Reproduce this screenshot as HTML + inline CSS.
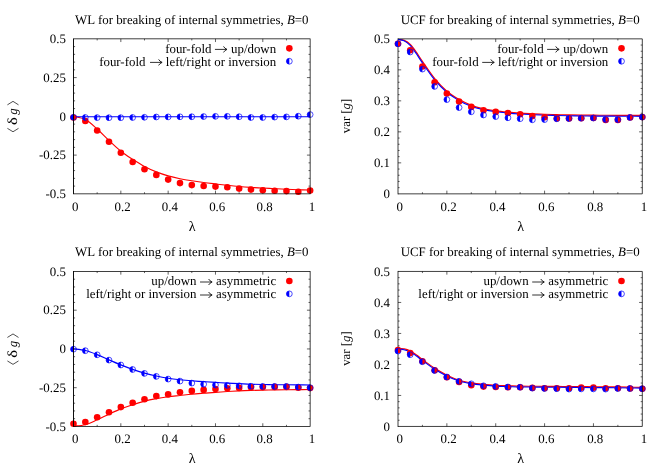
<!DOCTYPE html>
<html><head><meta charset="utf-8"><title>Symmetry breaking plots</title>
<style>
html,body{margin:0;padding:0;background:#fff;}
body{width:664px;height:465px;overflow:hidden;font-family:"Liberation Serif",serif;}
svg{display:block;}
svg g.t{filter:grayscale(1);}
svg text{text-rendering:geometricPrecision;font-family:"Liberation Serif",serif;font-size:12.9px;fill:#000;}
</style></head><body>
<svg width="664" height="465" viewBox="0 0 664 465">
<rect width="664" height="465" fill="#fff"/>
<path d="M97.16 193.85 v-1.60 M97.16 38.85 v1.60 M120.83 193.85 v-3.20 M120.83 38.85 v3.20 M144.49 193.85 v-1.60 M144.49 38.85 v1.60 M168.15 193.85 v-3.20 M168.15 38.85 v3.20 M191.81 193.85 v-1.60 M191.81 38.85 v1.60 M215.48 193.85 v-3.20 M215.48 38.85 v3.20 M239.14 193.85 v-1.60 M239.14 38.85 v1.60 M262.80 193.85 v-3.20 M262.80 38.85 v3.20 M286.47 193.85 v-1.60 M286.47 38.85 v1.60 M73.50 46.60 h1.60 M310.13 46.60 h-1.60 M73.50 54.35 h1.60 M310.13 54.35 h-1.60 M73.50 62.10 h1.60 M310.13 62.10 h-1.60 M73.50 69.85 h1.60 M310.13 69.85 h-1.60 M73.50 77.60 h3.20 M310.13 77.60 h-3.20 M73.50 85.35 h1.60 M310.13 85.35 h-1.60 M73.50 93.10 h1.60 M310.13 93.10 h-1.60 M73.50 100.85 h1.60 M310.13 100.85 h-1.60 M73.50 108.60 h1.60 M310.13 108.60 h-1.60 M73.50 116.35 h3.20 M310.13 116.35 h-3.20 M73.50 124.10 h1.60 M310.13 124.10 h-1.60 M73.50 131.85 h1.60 M310.13 131.85 h-1.60 M73.50 139.60 h1.60 M310.13 139.60 h-1.60 M73.50 147.35 h1.60 M310.13 147.35 h-1.60 M73.50 155.10 h3.20 M310.13 155.10 h-3.20 M73.50 162.85 h1.60 M310.13 162.85 h-1.60 M73.50 170.60 h1.60 M310.13 170.60 h-1.60 M73.50 178.35 h1.60 M310.13 178.35 h-1.60 M73.50 186.10 h1.60 M310.13 186.10 h-1.60" fill="none" stroke="#000" stroke-width="0.62"/>
<path d="M73.50 116.20 C75.47 116.77 81.39 117.47 85.33 119.60 C89.28 121.73 93.22 125.52 97.16 129.00 C101.11 132.48 105.05 136.80 108.99 140.50 C112.94 144.20 116.88 148.07 120.83 151.20 C124.77 154.33 128.71 156.75 132.66 159.30 C136.60 161.85 140.55 164.40 144.49 166.50 C148.43 168.60 152.38 170.33 156.32 171.90 C160.26 173.47 164.21 174.77 168.15 175.90 C172.10 177.03 176.04 177.88 179.98 178.70 C183.93 179.52 187.87 180.17 191.81 180.80 C195.76 181.43 199.70 181.97 203.65 182.50 C207.59 183.03 211.53 183.48 215.48 183.95 C219.42 184.42 223.37 184.88 227.31 185.30 C231.25 185.73 235.20 186.15 239.14 186.50 C243.08 186.85 247.03 187.14 250.97 187.40 C254.92 187.66 258.86 187.83 262.80 188.05 C266.75 188.27 270.69 188.51 274.64 188.70 C278.58 188.89 282.52 189.03 286.47 189.20 C290.41 189.37 294.35 189.56 298.30 189.70 C302.24 189.84 308.16 189.99 310.13 190.05" fill="none" stroke="#ff0000" stroke-width="1.15" stroke-linejoin="round"/>
<path d="M73.50 116.70 C75.47 116.70 81.39 116.70 85.33 116.70 C89.28 116.70 93.22 116.70 97.16 116.70 C101.11 116.70 105.05 116.70 108.99 116.70 C112.94 116.70 116.88 116.70 120.83 116.70 C124.77 116.70 128.71 116.70 132.66 116.70 C136.60 116.70 140.55 116.70 144.49 116.70 C148.43 116.70 152.38 116.70 156.32 116.70 C160.26 116.70 164.21 116.70 168.15 116.70 C172.10 116.70 176.04 116.70 179.98 116.70 C183.93 116.70 187.87 116.70 191.81 116.70 C195.76 116.70 199.70 116.70 203.65 116.70 C207.59 116.70 211.53 116.70 215.48 116.70 C219.42 116.70 223.37 116.70 227.31 116.70 C231.25 116.70 235.20 116.70 239.14 116.70 C243.08 116.70 247.03 116.70 250.97 116.70 C254.92 116.70 258.86 116.70 262.80 116.70 C266.75 116.70 270.69 116.70 274.64 116.70 C278.58 116.70 282.52 116.70 286.47 116.70 C290.41 116.70 294.35 116.70 298.30 116.70 C302.24 116.70 308.16 116.70 310.13 116.70" fill="none" stroke="#0000ff" stroke-width="1.15" stroke-linejoin="round"/>
<circle cx="73.50" cy="117.50" r="3.30" fill="#ff0000"/><circle cx="85.33" cy="121.05" r="3.30" fill="#ff0000"/><circle cx="97.16" cy="130.45" r="3.30" fill="#ff0000"/><circle cx="108.99" cy="141.80" r="3.30" fill="#ff0000"/><circle cx="120.83" cy="152.80" r="3.30" fill="#ff0000"/><circle cx="132.66" cy="162.00" r="3.30" fill="#ff0000"/><circle cx="144.49" cy="169.20" r="3.30" fill="#ff0000"/><circle cx="156.32" cy="174.90" r="3.30" fill="#ff0000"/><circle cx="168.15" cy="179.60" r="3.30" fill="#ff0000"/><circle cx="179.98" cy="183.10" r="3.30" fill="#ff0000"/><circle cx="191.81" cy="185.10" r="3.30" fill="#ff0000"/><circle cx="203.65" cy="186.05" r="3.30" fill="#ff0000"/><circle cx="215.48" cy="186.60" r="3.30" fill="#ff0000"/><circle cx="227.31" cy="187.20" r="3.30" fill="#ff0000"/><circle cx="239.14" cy="188.60" r="3.30" fill="#ff0000"/><circle cx="250.97" cy="189.60" r="3.30" fill="#ff0000"/><circle cx="262.80" cy="190.20" r="3.30" fill="#ff0000"/><circle cx="274.64" cy="190.70" r="3.30" fill="#ff0000"/><circle cx="286.47" cy="191.10" r="3.30" fill="#ff0000"/><circle cx="298.30" cy="191.70" r="3.30" fill="#ff0000"/><circle cx="310.13" cy="190.60" r="3.30" fill="#ff0000"/>
<circle cx="73.50" cy="117.30" r="2.90" fill="none" stroke="#0000ff" stroke-width="0.7"/><path d="M73.50 114.40 A2.90 2.90 0 0 0 73.50 120.20 Z" fill="#0000ff"/><circle cx="85.33" cy="117.50" r="2.90" fill="none" stroke="#0000ff" stroke-width="0.7"/><path d="M85.33 114.60 A2.90 2.90 0 0 0 85.33 120.40 Z" fill="#0000ff"/><circle cx="97.16" cy="117.60" r="2.90" fill="none" stroke="#0000ff" stroke-width="0.7"/><path d="M97.16 114.70 A2.90 2.90 0 0 0 97.16 120.50 Z" fill="#0000ff"/><circle cx="108.99" cy="117.70" r="2.90" fill="none" stroke="#0000ff" stroke-width="0.7"/><path d="M108.99 114.80 A2.90 2.90 0 0 0 108.99 120.60 Z" fill="#0000ff"/><circle cx="120.83" cy="117.70" r="2.90" fill="none" stroke="#0000ff" stroke-width="0.7"/><path d="M120.83 114.80 A2.90 2.90 0 0 0 120.83 120.60 Z" fill="#0000ff"/><circle cx="132.66" cy="117.50" r="2.90" fill="none" stroke="#0000ff" stroke-width="0.7"/><path d="M132.66 114.60 A2.90 2.90 0 0 0 132.66 120.40 Z" fill="#0000ff"/><circle cx="144.49" cy="117.30" r="2.90" fill="none" stroke="#0000ff" stroke-width="0.7"/><path d="M144.49 114.40 A2.90 2.90 0 0 0 144.49 120.20 Z" fill="#0000ff"/><circle cx="156.32" cy="117.00" r="2.90" fill="none" stroke="#0000ff" stroke-width="0.7"/><path d="M156.32 114.10 A2.90 2.90 0 0 0 156.32 119.90 Z" fill="#0000ff"/><circle cx="168.15" cy="116.90" r="2.90" fill="none" stroke="#0000ff" stroke-width="0.7"/><path d="M168.15 114.00 A2.90 2.90 0 0 0 168.15 119.80 Z" fill="#0000ff"/><circle cx="179.98" cy="116.80" r="2.90" fill="none" stroke="#0000ff" stroke-width="0.7"/><path d="M179.98 113.90 A2.90 2.90 0 0 0 179.98 119.70 Z" fill="#0000ff"/><circle cx="191.81" cy="116.75" r="2.90" fill="none" stroke="#0000ff" stroke-width="0.7"/><path d="M191.81 113.85 A2.90 2.90 0 0 0 191.81 119.65 Z" fill="#0000ff"/><circle cx="203.65" cy="116.55" r="2.90" fill="none" stroke="#0000ff" stroke-width="0.7"/><path d="M203.65 113.65 A2.90 2.90 0 0 0 203.65 119.45 Z" fill="#0000ff"/><circle cx="215.48" cy="116.35" r="2.90" fill="none" stroke="#0000ff" stroke-width="0.7"/><path d="M215.48 113.45 A2.90 2.90 0 0 0 215.48 119.25 Z" fill="#0000ff"/><circle cx="227.31" cy="116.35" r="2.90" fill="none" stroke="#0000ff" stroke-width="0.7"/><path d="M227.31 113.45 A2.90 2.90 0 0 0 227.31 119.25 Z" fill="#0000ff"/><circle cx="239.14" cy="116.75" r="2.90" fill="none" stroke="#0000ff" stroke-width="0.7"/><path d="M239.14 113.85 A2.90 2.90 0 0 0 239.14 119.65 Z" fill="#0000ff"/><circle cx="250.97" cy="117.50" r="2.90" fill="none" stroke="#0000ff" stroke-width="0.7"/><path d="M250.97 114.60 A2.90 2.90 0 0 0 250.97 120.40 Z" fill="#0000ff"/><circle cx="262.80" cy="117.50" r="2.90" fill="none" stroke="#0000ff" stroke-width="0.7"/><path d="M262.80 114.60 A2.90 2.90 0 0 0 262.80 120.40 Z" fill="#0000ff"/><circle cx="274.64" cy="117.10" r="2.90" fill="none" stroke="#0000ff" stroke-width="0.7"/><path d="M274.64 114.20 A2.90 2.90 0 0 0 274.64 120.00 Z" fill="#0000ff"/><circle cx="286.47" cy="116.90" r="2.90" fill="none" stroke="#0000ff" stroke-width="0.7"/><path d="M286.47 114.00 A2.90 2.90 0 0 0 286.47 119.80 Z" fill="#0000ff"/><circle cx="298.30" cy="116.20" r="2.90" fill="none" stroke="#0000ff" stroke-width="0.7"/><path d="M298.30 113.30 A2.90 2.90 0 0 0 298.30 119.10 Z" fill="#0000ff"/><circle cx="310.13" cy="114.60" r="2.90" fill="none" stroke="#0000ff" stroke-width="0.7"/><path d="M310.13 111.70 A2.90 2.90 0 0 0 310.13 117.50 Z" fill="#0000ff"/>
<path d="M214.93 49.40 H226.53" fill="none" stroke="#000" stroke-width="0.8"/>
<path d="M223.53 46.40 Q224.63 48.50 227.03 49.40 Q224.63 50.30 223.53 52.40" fill="none" stroke="#000" stroke-width="0.85" stroke-linejoin="miter"/>
<path d="M150.03 62.40 H161.63" fill="none" stroke="#000" stroke-width="0.8"/>
<path d="M158.63 59.40 Q159.73 61.50 162.13 62.40 Q159.73 63.30 158.63 65.40" fill="none" stroke="#000" stroke-width="0.85" stroke-linejoin="miter"/>
<circle cx="289.33" cy="48.35" r="3.30" fill="#ff0000"/>
<circle cx="289.33" cy="61.25" r="2.90" fill="none" stroke="#0000ff" stroke-width="0.7"/><path d="M289.33 58.35 A2.90 2.90 0 0 0 289.33 64.15 Z" fill="#0000ff"/>
<rect x="73.50" y="38.85" width="236.63" height="155.00" fill="none" stroke="#000" stroke-width="0.75"/>
<path d="M73.50 38.85 V193.85" fill="none" stroke="#000" stroke-width="0.75"/>
<g class="t">
<text x="191.81" y="23.65" text-anchor="middle">WL for breaking of internal symmetries, <tspan style="font-style:italic">B</tspan>=0</text>
<text x="192.31" y="230.55" text-anchor="middle" style="font-size:14.2px">λ</text>
<g transform="translate(16.50 116.75) rotate(-90)">
<text transform="translate(-8.3 0.1) scale(1.2 1)" x="0" y="0" style="font-size:13.7px">δ</text>
<text x="2.0" y="0.1" style="font-size:13px;font-style:italic">g</text>
<path d="M-11.6 -9.1 L-15.0 -3.5 L-11.6 2.0" fill="none" stroke="#000" stroke-width="0.7"/>
<path d="M11.9 -9.1 L15.4 -3.5 L11.9 2.0" fill="none" stroke="#000" stroke-width="0.7"/>
</g>
<text x="276.13" y="52.60" text-anchor="end">up/down</text>
<text x="211.43" y="52.60" text-anchor="end">four-fold</text>
<text x="276.13" y="65.60" text-anchor="end">left/right or inversion</text>
<text x="145.43" y="65.60" text-anchor="end">four-fold</text>
<text x="75.25" y="210.80" text-anchor="middle">0</text>
<text x="122.58" y="210.80" text-anchor="middle">0.2</text>
<text x="169.90" y="210.80" text-anchor="middle">0.4</text>
<text x="217.23" y="210.80" text-anchor="middle">0.6</text>
<text x="264.55" y="210.80" text-anchor="middle">0.8</text>
<text x="311.88" y="210.80" text-anchor="middle">1</text>
<text x="65.90" y="43.10" text-anchor="end">0.5</text>
<text x="65.90" y="81.85" text-anchor="end">0.25</text>
<text x="65.90" y="120.60" text-anchor="end">0</text>
<text x="65.90" y="159.35" text-anchor="end">-0.25</text>
<text x="65.90" y="198.10" text-anchor="end">-0.5</text>
</g>
<path d="M398.00 38.85 V193.85" fill="none" stroke="#000" stroke-width="0.75" stroke-linecap="square"/>
<path d="M422.43 193.85 v-1.60 M422.43 38.85 v1.60 M446.86 193.85 v-3.20 M446.86 38.85 v3.20 M471.29 193.85 v-1.60 M471.29 38.85 v1.60 M495.72 193.85 v-3.20 M495.72 38.85 v3.20 M520.15 193.85 v-1.60 M520.15 38.85 v1.60 M544.58 193.85 v-3.20 M544.58 38.85 v3.20 M569.01 193.85 v-1.60 M569.01 38.85 v1.60 M593.44 193.85 v-3.20 M593.44 38.85 v3.20 M617.87 193.85 v-1.60 M617.87 38.85 v1.60 M398.00 45.05 h1.60 M642.30 45.05 h-1.60 M398.00 51.25 h1.60 M642.30 51.25 h-1.60 M398.00 57.45 h1.60 M642.30 57.45 h-1.60 M398.00 63.65 h1.60 M642.30 63.65 h-1.60 M398.00 69.85 h3.20 M642.30 69.85 h-3.20 M398.00 76.05 h1.60 M642.30 76.05 h-1.60 M398.00 82.25 h1.60 M642.30 82.25 h-1.60 M398.00 88.45 h1.60 M642.30 88.45 h-1.60 M398.00 94.65 h1.60 M642.30 94.65 h-1.60 M398.00 100.85 h3.20 M642.30 100.85 h-3.20 M398.00 107.05 h1.60 M642.30 107.05 h-1.60 M398.00 113.25 h1.60 M642.30 113.25 h-1.60 M398.00 119.45 h1.60 M642.30 119.45 h-1.60 M398.00 125.65 h1.60 M642.30 125.65 h-1.60 M398.00 131.85 h3.20 M642.30 131.85 h-3.20 M398.00 138.05 h1.60 M642.30 138.05 h-1.60 M398.00 144.25 h1.60 M642.30 144.25 h-1.60 M398.00 150.45 h1.60 M642.30 150.45 h-1.60 M398.00 156.65 h1.60 M642.30 156.65 h-1.60 M398.00 162.85 h3.20 M642.30 162.85 h-3.20 M398.00 169.05 h1.60 M642.30 169.05 h-1.60 M398.00 175.25 h1.60 M642.30 175.25 h-1.60 M398.00 181.45 h1.60 M642.30 181.45 h-1.60 M398.00 187.65 h1.60 M642.30 187.65 h-1.60" fill="none" stroke="#000" stroke-width="0.62"/>
<path d="M398.00 39.50 C399.04 39.64 402.13 39.50 404.22 40.35 C406.31 41.20 408.46 42.53 410.53 44.58 C412.61 46.63 414.65 49.76 416.69 52.64 C418.73 55.52 419.75 57.46 422.80 61.84 C425.85 66.22 430.93 73.98 434.99 78.91 C439.05 83.85 443.10 88.01 447.15 91.46 C451.20 94.91 455.25 97.29 459.30 99.61 C463.35 101.93 467.40 103.85 471.45 105.38 C475.50 106.90 479.55 107.85 483.60 108.76 C487.66 109.67 491.72 110.29 495.78 110.85 C499.84 111.42 503.91 111.78 507.98 112.15 C512.04 112.53 516.11 112.83 520.18 113.10 C524.25 113.37 528.32 113.55 532.39 113.75 C536.46 113.95 540.53 114.16 544.60 114.30 C548.67 114.44 552.74 114.50 556.81 114.60 C560.88 114.70 564.95 114.82 569.02 114.90 C573.09 114.98 577.16 115.06 581.23 115.10 C585.30 115.15 589.37 115.15 593.44 115.17 C597.51 115.20 601.59 115.23 605.66 115.25 C609.73 115.28 613.80 115.30 617.87 115.32 C621.94 115.34 626.01 115.36 630.09 115.37 C634.16 115.38 640.27 115.40 642.30 115.40" fill="none" stroke="#ff0000" stroke-width="1.15" stroke-linejoin="round"/>
<path d="M398.00 39.50 C399.00 39.73 402.01 39.90 404.00 40.85 C405.98 41.80 407.90 43.17 409.90 45.22 C411.89 47.27 413.93 50.30 415.96 53.16 C417.98 56.02 419.00 57.97 422.06 62.36 C425.12 66.74 430.21 74.52 434.30 79.49 C438.38 84.45 442.48 88.66 446.57 92.14 C450.66 95.63 454.76 98.04 458.85 100.39 C462.95 102.74 467.04 104.68 471.13 106.22 C475.22 107.76 479.32 108.72 483.41 109.64 C487.49 110.56 491.58 111.18 495.66 111.75 C499.74 112.31 503.82 112.67 507.89 113.05 C511.97 113.42 516.05 113.73 520.12 114.00 C524.20 114.27 528.27 114.45 532.34 114.65 C536.42 114.85 540.49 115.06 544.56 115.20 C548.64 115.34 552.71 115.40 556.78 115.50 C560.86 115.60 564.93 115.72 569.00 115.80 C573.07 115.88 577.15 115.95 581.22 116.00 C585.29 116.04 589.37 116.04 593.44 116.07 C597.51 116.09 601.58 116.12 605.65 116.15 C609.72 116.17 613.80 116.20 617.87 116.22 C621.94 116.24 626.01 116.26 630.08 116.27 C634.16 116.28 640.26 116.29 642.30 116.30" fill="none" stroke="#0000ff" stroke-width="1.15" stroke-linejoin="round"/>
<circle cx="398.00" cy="43.80" r="3.30" fill="#ff0000"/><circle cx="410.21" cy="50.20" r="3.30" fill="#ff0000"/><circle cx="422.43" cy="66.50" r="3.30" fill="#ff0000"/><circle cx="434.64" cy="82.30" r="3.30" fill="#ff0000"/><circle cx="446.86" cy="93.50" r="3.30" fill="#ff0000"/><circle cx="459.07" cy="101.60" r="3.30" fill="#ff0000"/><circle cx="471.29" cy="106.90" r="3.30" fill="#ff0000"/><circle cx="483.50" cy="110.30" r="3.30" fill="#ff0000"/><circle cx="495.72" cy="111.90" r="3.30" fill="#ff0000"/><circle cx="507.94" cy="113.00" r="3.30" fill="#ff0000"/><circle cx="520.15" cy="114.20" r="3.30" fill="#ff0000"/><circle cx="532.37" cy="116.10" r="3.30" fill="#ff0000"/><circle cx="544.58" cy="117.30" r="3.30" fill="#ff0000"/><circle cx="556.79" cy="118.40" r="3.30" fill="#ff0000"/><circle cx="569.01" cy="118.40" r="3.30" fill="#ff0000"/><circle cx="581.22" cy="118.20" r="3.30" fill="#ff0000"/><circle cx="593.44" cy="118.00" r="3.30" fill="#ff0000"/><circle cx="605.65" cy="119.90" r="3.30" fill="#ff0000"/><circle cx="617.87" cy="119.90" r="3.30" fill="#ff0000"/><circle cx="630.08" cy="117.45" r="3.30" fill="#ff0000"/><circle cx="642.30" cy="117.10" r="3.30" fill="#ff0000"/>
<circle cx="398.00" cy="43.80" r="2.90" fill="none" stroke="#0000ff" stroke-width="0.7"/><path d="M398.00 40.90 A2.90 2.90 0 0 0 398.00 46.70 Z" fill="#0000ff"/><circle cx="410.21" cy="52.00" r="2.90" fill="none" stroke="#0000ff" stroke-width="0.7"/><path d="M410.21 49.10 A2.90 2.90 0 0 0 410.21 54.90 Z" fill="#0000ff"/><circle cx="422.43" cy="69.10" r="2.90" fill="none" stroke="#0000ff" stroke-width="0.7"/><path d="M422.43 66.20 A2.90 2.90 0 0 0 422.43 72.00 Z" fill="#0000ff"/><circle cx="434.64" cy="86.40" r="2.90" fill="none" stroke="#0000ff" stroke-width="0.7"/><path d="M434.64 83.50 A2.90 2.90 0 0 0 434.64 89.30 Z" fill="#0000ff"/><circle cx="446.86" cy="99.60" r="2.90" fill="none" stroke="#0000ff" stroke-width="0.7"/><path d="M446.86 96.70 A2.90 2.90 0 0 0 446.86 102.50 Z" fill="#0000ff"/><circle cx="459.07" cy="107.60" r="2.90" fill="none" stroke="#0000ff" stroke-width="0.7"/><path d="M459.07 104.70 A2.90 2.90 0 0 0 459.07 110.50 Z" fill="#0000ff"/><circle cx="471.29" cy="111.80" r="2.90" fill="none" stroke="#0000ff" stroke-width="0.7"/><path d="M471.29 108.90 A2.90 2.90 0 0 0 471.29 114.70 Z" fill="#0000ff"/><circle cx="483.50" cy="115.00" r="2.90" fill="none" stroke="#0000ff" stroke-width="0.7"/><path d="M483.50 112.10 A2.90 2.90 0 0 0 483.50 117.90 Z" fill="#0000ff"/><circle cx="495.72" cy="116.60" r="2.90" fill="none" stroke="#0000ff" stroke-width="0.7"/><path d="M495.72 113.70 A2.90 2.90 0 0 0 495.72 119.50 Z" fill="#0000ff"/><circle cx="507.94" cy="117.80" r="2.90" fill="none" stroke="#0000ff" stroke-width="0.7"/><path d="M507.94 114.90 A2.90 2.90 0 0 0 507.94 120.70 Z" fill="#0000ff"/><circle cx="520.15" cy="118.70" r="2.90" fill="none" stroke="#0000ff" stroke-width="0.7"/><path d="M520.15 115.80 A2.90 2.90 0 0 0 520.15 121.60 Z" fill="#0000ff"/><circle cx="532.37" cy="119.80" r="2.90" fill="none" stroke="#0000ff" stroke-width="0.7"/><path d="M532.37 116.90 A2.90 2.90 0 0 0 532.37 122.70 Z" fill="#0000ff"/><circle cx="544.58" cy="119.60" r="2.90" fill="none" stroke="#0000ff" stroke-width="0.7"/><path d="M544.58 116.70 A2.90 2.90 0 0 0 544.58 122.50 Z" fill="#0000ff"/><circle cx="556.79" cy="118.80" r="2.90" fill="none" stroke="#0000ff" stroke-width="0.7"/><path d="M556.79 115.90 A2.90 2.90 0 0 0 556.79 121.70 Z" fill="#0000ff"/><circle cx="569.01" cy="118.50" r="2.90" fill="none" stroke="#0000ff" stroke-width="0.7"/><path d="M569.01 115.60 A2.90 2.90 0 0 0 569.01 121.40 Z" fill="#0000ff"/><circle cx="581.22" cy="118.20" r="2.90" fill="none" stroke="#0000ff" stroke-width="0.7"/><path d="M581.22 115.30 A2.90 2.90 0 0 0 581.22 121.10 Z" fill="#0000ff"/><circle cx="593.44" cy="118.00" r="2.90" fill="none" stroke="#0000ff" stroke-width="0.7"/><path d="M593.44 115.10 A2.90 2.90 0 0 0 593.44 120.90 Z" fill="#0000ff"/><circle cx="605.65" cy="119.50" r="2.90" fill="none" stroke="#0000ff" stroke-width="0.7"/><path d="M605.65 116.60 A2.90 2.90 0 0 0 605.65 122.40 Z" fill="#0000ff"/><circle cx="617.87" cy="119.60" r="2.90" fill="none" stroke="#0000ff" stroke-width="0.7"/><path d="M617.87 116.70 A2.90 2.90 0 0 0 617.87 122.50 Z" fill="#0000ff"/><circle cx="630.08" cy="117.45" r="2.90" fill="none" stroke="#0000ff" stroke-width="0.7"/><path d="M630.08 114.55 A2.90 2.90 0 0 0 630.08 120.35 Z" fill="#0000ff"/><circle cx="642.30" cy="117.10" r="2.90" fill="none" stroke="#0000ff" stroke-width="0.7"/><path d="M642.30 114.20 A2.90 2.90 0 0 0 642.30 120.00 Z" fill="#0000ff"/>
<path d="M547.10 49.40 H558.70" fill="none" stroke="#000" stroke-width="0.8"/>
<path d="M555.70 46.40 Q556.80 48.50 559.20 49.40 Q556.80 50.30 555.70 52.40" fill="none" stroke="#000" stroke-width="0.85" stroke-linejoin="miter"/>
<path d="M482.20 62.40 H493.80" fill="none" stroke="#000" stroke-width="0.8"/>
<path d="M490.80 59.40 Q491.90 61.50 494.30 62.40 Q491.90 63.30 490.80 65.40" fill="none" stroke="#000" stroke-width="0.85" stroke-linejoin="miter"/>
<circle cx="621.50" cy="48.35" r="3.30" fill="#ff0000"/>
<circle cx="621.50" cy="61.25" r="2.90" fill="none" stroke="#0000ff" stroke-width="0.7"/><path d="M621.50 58.35 A2.90 2.90 0 0 0 621.50 64.15 Z" fill="#0000ff"/>
<path d="M398.00 38.85 H642.30 V193.85 H398.00" fill="none" stroke="#000" stroke-width="0.75" stroke-linejoin="round"/>
<g class="t">
<text x="520.15" y="23.65" text-anchor="middle">UCF for breaking of internal symmetries, <tspan style="font-style:italic">B</tspan>=0</text>
<text x="520.65" y="230.55" text-anchor="middle" style="font-size:14.2px">λ</text>
<g transform="translate(349.70 115.95) rotate(-90)">
<text x="0" y="0" text-anchor="middle" style="font-size:12.8px">var [<tspan style="font-style:italic">g</tspan>]</text>
</g>
<text x="608.30" y="52.60" text-anchor="end">up/down</text>
<text x="543.60" y="52.60" text-anchor="end">four-fold</text>
<text x="608.30" y="65.60" text-anchor="end">left/right or inversion</text>
<text x="478.60" y="65.60" text-anchor="end">four-fold</text>
<text x="399.75" y="210.80" text-anchor="middle">0</text>
<text x="448.61" y="210.80" text-anchor="middle">0.2</text>
<text x="497.47" y="210.80" text-anchor="middle">0.4</text>
<text x="546.33" y="210.80" text-anchor="middle">0.6</text>
<text x="595.19" y="210.80" text-anchor="middle">0.8</text>
<text x="644.05" y="210.80" text-anchor="middle">1</text>
<text x="390.00" y="43.10" text-anchor="end">0.5</text>
<text x="390.00" y="74.10" text-anchor="end">0.4</text>
<text x="390.00" y="105.10" text-anchor="end">0.3</text>
<text x="390.00" y="136.10" text-anchor="end">0.2</text>
<text x="390.00" y="167.10" text-anchor="end">0.1</text>
<text x="390.00" y="198.10" text-anchor="end">0</text>
</g>
<path d="M97.16 426.45 v-1.60 M97.16 271.45 v1.60 M120.83 426.45 v-3.20 M120.83 271.45 v3.20 M144.49 426.45 v-1.60 M144.49 271.45 v1.60 M168.15 426.45 v-3.20 M168.15 271.45 v3.20 M191.81 426.45 v-1.60 M191.81 271.45 v1.60 M215.48 426.45 v-3.20 M215.48 271.45 v3.20 M239.14 426.45 v-1.60 M239.14 271.45 v1.60 M262.80 426.45 v-3.20 M262.80 271.45 v3.20 M286.47 426.45 v-1.60 M286.47 271.45 v1.60 M73.50 279.20 h1.60 M310.13 279.20 h-1.60 M73.50 286.95 h1.60 M310.13 286.95 h-1.60 M73.50 294.70 h1.60 M310.13 294.70 h-1.60 M73.50 302.45 h1.60 M310.13 302.45 h-1.60 M73.50 310.20 h3.20 M310.13 310.20 h-3.20 M73.50 317.95 h1.60 M310.13 317.95 h-1.60 M73.50 325.70 h1.60 M310.13 325.70 h-1.60 M73.50 333.45 h1.60 M310.13 333.45 h-1.60 M73.50 341.20 h1.60 M310.13 341.20 h-1.60 M73.50 348.95 h3.20 M310.13 348.95 h-3.20 M73.50 356.70 h1.60 M310.13 356.70 h-1.60 M73.50 364.45 h1.60 M310.13 364.45 h-1.60 M73.50 372.20 h1.60 M310.13 372.20 h-1.60 M73.50 379.95 h1.60 M310.13 379.95 h-1.60 M73.50 387.70 h3.20 M310.13 387.70 h-3.20 M73.50 395.45 h1.60 M310.13 395.45 h-1.60 M73.50 403.20 h1.60 M310.13 403.20 h-1.60 M73.50 410.95 h1.60 M310.13 410.95 h-1.60 M73.50 418.70 h1.60 M310.13 418.70 h-1.60" fill="none" stroke="#000" stroke-width="0.62"/>
<path d="M73.50 426.10 C75.47 425.87 81.39 425.75 85.33 424.70 C89.28 423.65 93.22 421.55 97.16 419.80 C101.11 418.05 105.05 416.02 108.99 414.20 C112.94 412.38 116.88 410.48 120.83 408.90 C124.77 407.32 128.71 406.00 132.66 404.70 C136.60 403.40 140.55 402.12 144.49 401.10 C148.43 400.08 152.38 399.32 156.32 398.60 C160.26 397.88 164.21 397.32 168.15 396.80 C172.10 396.28 176.04 395.93 179.98 395.50 C183.93 395.07 187.87 394.57 191.81 394.20 C195.76 393.82 199.70 393.55 203.65 393.25 C207.59 392.95 211.53 392.68 215.48 392.40 C219.42 392.12 223.37 391.80 227.31 391.55 C231.25 391.30 235.20 391.09 239.14 390.90 C243.08 390.71 247.03 390.53 250.97 390.40 C254.92 390.27 258.86 390.18 262.80 390.10 C266.75 390.02 270.69 389.96 274.64 389.90 C278.58 389.84 282.52 389.80 286.47 389.75 C290.41 389.70 294.35 389.64 298.30 389.60 C302.24 389.56 308.16 389.52 310.13 389.50" fill="none" stroke="#ff0000" stroke-width="1.15" stroke-linejoin="round"/>
<path d="M73.50 348.90 C75.47 349.17 81.39 349.55 85.33 350.50 C89.28 351.45 93.22 353.03 97.16 354.60 C101.11 356.17 105.05 358.18 108.99 359.90 C112.94 361.62 116.88 363.32 120.83 364.90 C124.77 366.48 128.71 368.03 132.66 369.40 C136.60 370.77 140.55 372.00 144.49 373.10 C148.43 374.20 152.38 375.15 156.32 376.00 C160.26 376.85 164.21 377.58 168.15 378.20 C172.10 378.82 176.04 379.27 179.98 379.70 C183.93 380.13 187.87 380.48 191.81 380.80 C195.76 381.12 199.70 381.38 203.65 381.65 C207.59 381.92 211.53 382.16 215.48 382.40 C219.42 382.64 223.37 382.89 227.31 383.10 C231.25 383.31 235.20 383.47 239.14 383.65 C243.08 383.83 247.03 384.06 250.97 384.20 C254.92 384.34 258.86 384.42 262.80 384.50 C266.75 384.58 270.69 384.65 274.64 384.70 C278.58 384.75 282.52 384.77 286.47 384.80 C290.41 384.83 294.35 384.87 298.30 384.90 C302.24 384.93 308.16 384.98 310.13 385.00" fill="none" stroke="#0000ff" stroke-width="1.15" stroke-linejoin="round"/>
<circle cx="73.50" cy="423.75" r="3.30" fill="#ff0000"/><circle cx="85.33" cy="422.00" r="3.30" fill="#ff0000"/><circle cx="97.16" cy="417.30" r="3.30" fill="#ff0000"/><circle cx="108.99" cy="412.20" r="3.30" fill="#ff0000"/><circle cx="120.83" cy="407.10" r="3.30" fill="#ff0000"/><circle cx="132.66" cy="402.80" r="3.30" fill="#ff0000"/><circle cx="144.49" cy="399.30" r="3.30" fill="#ff0000"/><circle cx="156.32" cy="396.10" r="3.30" fill="#ff0000"/><circle cx="168.15" cy="394.40" r="3.30" fill="#ff0000"/><circle cx="179.98" cy="392.20" r="3.30" fill="#ff0000"/><circle cx="191.81" cy="390.90" r="3.30" fill="#ff0000"/><circle cx="203.65" cy="389.90" r="3.30" fill="#ff0000"/><circle cx="215.48" cy="389.10" r="3.30" fill="#ff0000"/><circle cx="227.31" cy="388.30" r="3.30" fill="#ff0000"/><circle cx="239.14" cy="387.90" r="3.30" fill="#ff0000"/><circle cx="250.97" cy="387.30" r="3.30" fill="#ff0000"/><circle cx="262.80" cy="387.10" r="3.30" fill="#ff0000"/><circle cx="274.64" cy="386.90" r="3.30" fill="#ff0000"/><circle cx="286.47" cy="386.90" r="3.30" fill="#ff0000"/><circle cx="298.30" cy="387.70" r="3.30" fill="#ff0000"/><circle cx="310.13" cy="388.10" r="3.30" fill="#ff0000"/>
<circle cx="73.50" cy="349.16" r="2.90" fill="none" stroke="#0000ff" stroke-width="0.7"/><path d="M73.50 346.26 A2.90 2.90 0 0 0 73.50 352.06 Z" fill="#0000ff"/><circle cx="85.33" cy="350.70" r="2.90" fill="none" stroke="#0000ff" stroke-width="0.7"/><path d="M85.33 347.80 A2.90 2.90 0 0 0 85.33 353.60 Z" fill="#0000ff"/><circle cx="97.16" cy="354.80" r="2.90" fill="none" stroke="#0000ff" stroke-width="0.7"/><path d="M97.16 351.90 A2.90 2.90 0 0 0 97.16 357.70 Z" fill="#0000ff"/><circle cx="108.99" cy="360.10" r="2.90" fill="none" stroke="#0000ff" stroke-width="0.7"/><path d="M108.99 357.20 A2.90 2.90 0 0 0 108.99 363.00 Z" fill="#0000ff"/><circle cx="120.83" cy="365.00" r="2.90" fill="none" stroke="#0000ff" stroke-width="0.7"/><path d="M120.83 362.10 A2.90 2.90 0 0 0 120.83 367.90 Z" fill="#0000ff"/><circle cx="132.66" cy="369.50" r="2.90" fill="none" stroke="#0000ff" stroke-width="0.7"/><path d="M132.66 366.60 A2.90 2.90 0 0 0 132.66 372.40 Z" fill="#0000ff"/><circle cx="144.49" cy="373.40" r="2.90" fill="none" stroke="#0000ff" stroke-width="0.7"/><path d="M144.49 370.50 A2.90 2.90 0 0 0 144.49 376.30 Z" fill="#0000ff"/><circle cx="156.32" cy="376.40" r="2.90" fill="none" stroke="#0000ff" stroke-width="0.7"/><path d="M156.32 373.50 A2.90 2.90 0 0 0 156.32 379.30 Z" fill="#0000ff"/><circle cx="168.15" cy="379.10" r="2.90" fill="none" stroke="#0000ff" stroke-width="0.7"/><path d="M168.15 376.20 A2.90 2.90 0 0 0 168.15 382.00 Z" fill="#0000ff"/><circle cx="179.98" cy="381.10" r="2.90" fill="none" stroke="#0000ff" stroke-width="0.7"/><path d="M179.98 378.20 A2.90 2.90 0 0 0 179.98 384.00 Z" fill="#0000ff"/><circle cx="191.81" cy="383.10" r="2.90" fill="none" stroke="#0000ff" stroke-width="0.7"/><path d="M191.81 380.20 A2.90 2.90 0 0 0 191.81 386.00 Z" fill="#0000ff"/><circle cx="203.65" cy="384.20" r="2.90" fill="none" stroke="#0000ff" stroke-width="0.7"/><path d="M203.65 381.30 A2.90 2.90 0 0 0 203.65 387.10 Z" fill="#0000ff"/><circle cx="215.48" cy="385.00" r="2.90" fill="none" stroke="#0000ff" stroke-width="0.7"/><path d="M215.48 382.10 A2.90 2.90 0 0 0 215.48 387.90 Z" fill="#0000ff"/><circle cx="227.31" cy="385.40" r="2.90" fill="none" stroke="#0000ff" stroke-width="0.7"/><path d="M227.31 382.50 A2.90 2.90 0 0 0 227.31 388.30 Z" fill="#0000ff"/><circle cx="239.14" cy="385.80" r="2.90" fill="none" stroke="#0000ff" stroke-width="0.7"/><path d="M239.14 382.90 A2.90 2.90 0 0 0 239.14 388.70 Z" fill="#0000ff"/><circle cx="250.97" cy="386.20" r="2.90" fill="none" stroke="#0000ff" stroke-width="0.7"/><path d="M250.97 383.30 A2.90 2.90 0 0 0 250.97 389.10 Z" fill="#0000ff"/><circle cx="262.80" cy="386.40" r="2.90" fill="none" stroke="#0000ff" stroke-width="0.7"/><path d="M262.80 383.50 A2.90 2.90 0 0 0 262.80 389.30 Z" fill="#0000ff"/><circle cx="274.64" cy="386.40" r="2.90" fill="none" stroke="#0000ff" stroke-width="0.7"/><path d="M274.64 383.50 A2.90 2.90 0 0 0 274.64 389.30 Z" fill="#0000ff"/><circle cx="286.47" cy="386.40" r="2.90" fill="none" stroke="#0000ff" stroke-width="0.7"/><path d="M286.47 383.50 A2.90 2.90 0 0 0 286.47 389.30 Z" fill="#0000ff"/><circle cx="298.30" cy="387.10" r="2.90" fill="none" stroke="#0000ff" stroke-width="0.7"/><path d="M298.30 384.20 A2.90 2.90 0 0 0 298.30 390.00 Z" fill="#0000ff"/><circle cx="310.13" cy="387.70" r="2.90" fill="none" stroke="#0000ff" stroke-width="0.7"/><path d="M310.13 384.80 A2.90 2.90 0 0 0 310.13 390.60 Z" fill="#0000ff"/>
<path d="M200.03 282.00 H211.63" fill="none" stroke="#000" stroke-width="0.8"/>
<path d="M208.63 279.00 Q209.73 281.10 212.13 282.00 Q209.73 282.90 208.63 285.00" fill="none" stroke="#000" stroke-width="0.85" stroke-linejoin="miter"/>
<path d="M200.03 295.00 H211.63" fill="none" stroke="#000" stroke-width="0.8"/>
<path d="M208.63 292.00 Q209.73 294.10 212.13 295.00 Q209.73 295.90 208.63 298.00" fill="none" stroke="#000" stroke-width="0.85" stroke-linejoin="miter"/>
<circle cx="289.33" cy="280.95" r="3.30" fill="#ff0000"/>
<circle cx="289.33" cy="293.85" r="2.90" fill="none" stroke="#0000ff" stroke-width="0.7"/><path d="M289.33 290.95 A2.90 2.90 0 0 0 289.33 296.75 Z" fill="#0000ff"/>
<rect x="73.50" y="271.45" width="236.63" height="155.00" fill="none" stroke="#000" stroke-width="0.75"/>
<path d="M73.50 271.45 V426.45" fill="none" stroke="#000" stroke-width="0.75"/>
<g class="t">
<text x="191.81" y="256.25" text-anchor="middle">WL for breaking of internal symmetries, <tspan style="font-style:italic">B</tspan>=0</text>
<text x="192.31" y="463.15" text-anchor="middle" style="font-size:14.2px">λ</text>
<g transform="translate(16.50 349.35) rotate(-90)">
<text transform="translate(-8.3 0.1) scale(1.2 1)" x="0" y="0" style="font-size:13.7px">δ</text>
<text x="2.0" y="0.1" style="font-size:13px;font-style:italic">g</text>
<path d="M-11.6 -9.1 L-15.0 -3.5 L-11.6 2.0" fill="none" stroke="#000" stroke-width="0.7"/>
<path d="M11.9 -9.1 L15.4 -3.5 L11.9 2.0" fill="none" stroke="#000" stroke-width="0.7"/>
</g>
<text x="276.13" y="285.20" text-anchor="end">asymmetric</text>
<text x="196.43" y="285.20" text-anchor="end">up/down</text>
<text x="276.13" y="298.20" text-anchor="end">asymmetric</text>
<text x="196.43" y="298.20" text-anchor="end">left/right or inversion</text>
<text x="75.25" y="443.40" text-anchor="middle">0</text>
<text x="122.58" y="443.40" text-anchor="middle">0.2</text>
<text x="169.90" y="443.40" text-anchor="middle">0.4</text>
<text x="217.23" y="443.40" text-anchor="middle">0.6</text>
<text x="264.55" y="443.40" text-anchor="middle">0.8</text>
<text x="311.88" y="443.40" text-anchor="middle">1</text>
<text x="65.90" y="275.70" text-anchor="end">0.5</text>
<text x="65.90" y="314.45" text-anchor="end">0.25</text>
<text x="65.90" y="353.20" text-anchor="end">0</text>
<text x="65.90" y="391.95" text-anchor="end">-0.25</text>
<text x="65.90" y="430.70" text-anchor="end">-0.5</text>
</g>
<path d="M398.00 271.45 V426.45" fill="none" stroke="#000" stroke-width="0.75" stroke-linecap="square"/>
<path d="M422.43 426.45 v-1.60 M422.43 271.45 v1.60 M446.86 426.45 v-3.20 M446.86 271.45 v3.20 M471.29 426.45 v-1.60 M471.29 271.45 v1.60 M495.72 426.45 v-3.20 M495.72 271.45 v3.20 M520.15 426.45 v-1.60 M520.15 271.45 v1.60 M544.58 426.45 v-3.20 M544.58 271.45 v3.20 M569.01 426.45 v-1.60 M569.01 271.45 v1.60 M593.44 426.45 v-3.20 M593.44 271.45 v3.20 M617.87 426.45 v-1.60 M617.87 271.45 v1.60 M398.00 277.65 h1.60 M642.30 277.65 h-1.60 M398.00 283.85 h1.60 M642.30 283.85 h-1.60 M398.00 290.05 h1.60 M642.30 290.05 h-1.60 M398.00 296.25 h1.60 M642.30 296.25 h-1.60 M398.00 302.45 h3.20 M642.30 302.45 h-3.20 M398.00 308.65 h1.60 M642.30 308.65 h-1.60 M398.00 314.85 h1.60 M642.30 314.85 h-1.60 M398.00 321.05 h1.60 M642.30 321.05 h-1.60 M398.00 327.25 h1.60 M642.30 327.25 h-1.60 M398.00 333.45 h3.20 M642.30 333.45 h-3.20 M398.00 339.65 h1.60 M642.30 339.65 h-1.60 M398.00 345.85 h1.60 M642.30 345.85 h-1.60 M398.00 352.05 h1.60 M642.30 352.05 h-1.60 M398.00 358.25 h1.60 M642.30 358.25 h-1.60 M398.00 364.45 h3.20 M642.30 364.45 h-3.20 M398.00 370.65 h1.60 M642.30 370.65 h-1.60 M398.00 376.85 h1.60 M642.30 376.85 h-1.60 M398.00 383.05 h1.60 M642.30 383.05 h-1.60 M398.00 389.25 h1.60 M642.30 389.25 h-1.60 M398.00 395.45 h3.20 M642.30 395.45 h-3.20 M398.00 401.65 h1.60 M642.30 401.65 h-1.60 M398.00 407.85 h1.60 M642.30 407.85 h-1.60 M398.00 414.05 h1.60 M642.30 414.05 h-1.60 M398.00 420.25 h1.60 M642.30 420.25 h-1.60" fill="none" stroke="#000" stroke-width="0.62"/>
<path d="M398.00 348.65 C399.03 348.69 402.13 348.49 404.20 348.89 C406.27 349.29 408.34 350.00 410.40 351.02 C412.46 352.05 414.52 353.62 416.56 355.06 C418.61 356.50 419.63 357.45 422.68 359.66 C425.73 361.88 430.81 365.75 434.87 368.35 C438.93 370.94 442.99 373.25 447.04 375.22 C451.10 377.20 455.15 378.93 459.20 380.20 C463.25 381.47 467.30 382.15 471.36 382.84 C475.42 383.52 479.48 383.92 483.55 384.33 C487.61 384.75 491.68 385.10 495.74 385.33 C499.81 385.56 503.88 385.60 507.95 385.73 C512.02 385.86 516.09 386.05 520.16 386.13 C524.23 386.21 528.30 386.20 532.37 386.23 C536.44 386.26 540.51 386.30 544.58 386.33 C548.66 386.36 552.73 386.40 556.80 386.43 C560.87 386.46 564.94 386.50 569.01 386.53 C573.09 386.56 577.16 386.60 581.23 386.63 C585.30 386.66 589.37 386.70 593.44 386.73 C597.52 386.76 601.59 386.80 605.66 386.83 C609.73 386.86 613.80 386.88 617.88 386.93 C621.95 386.98 626.02 387.06 630.09 387.13 C634.16 387.20 640.27 387.30 642.31 387.33" fill="none" stroke="#ff0000" stroke-width="1.15" stroke-linejoin="round"/>
<path d="M398.00 348.65 C399.00 348.83 402.01 349.19 404.02 349.71 C406.02 350.23 408.02 350.77 410.03 351.78 C412.04 352.78 414.05 354.32 416.08 355.74 C418.11 357.17 419.13 358.12 422.18 360.34 C425.24 362.56 430.34 366.45 434.42 369.05 C438.50 371.66 442.59 373.99 446.68 375.98 C450.76 377.97 454.86 379.72 458.95 381.00 C463.04 382.28 467.13 382.97 471.22 383.66 C475.31 384.36 479.38 384.75 483.46 385.17 C487.54 385.59 491.62 385.94 495.70 386.17 C499.77 386.40 503.85 386.44 507.92 386.57 C512.00 386.70 516.07 386.89 520.14 386.97 C524.21 387.05 528.29 387.04 532.36 387.07 C536.43 387.10 540.50 387.14 544.58 387.17 C548.65 387.20 552.72 387.24 556.79 387.27 C560.86 387.30 564.93 387.34 569.01 387.37 C573.08 387.40 577.15 387.44 581.22 387.47 C585.29 387.50 589.36 387.54 593.44 387.57 C597.51 387.60 601.58 387.64 605.65 387.67 C609.72 387.70 613.79 387.72 617.86 387.77 C621.94 387.82 626.01 387.90 630.08 387.97 C634.15 388.04 640.26 388.14 642.29 388.17" fill="none" stroke="#0000ff" stroke-width="1.15" stroke-linejoin="round"/>
<circle cx="398.00" cy="349.97" r="3.30" fill="#ff0000"/><circle cx="410.21" cy="353.10" r="3.30" fill="#ff0000"/><circle cx="422.43" cy="361.30" r="3.30" fill="#ff0000"/><circle cx="434.64" cy="370.30" r="3.30" fill="#ff0000"/><circle cx="446.86" cy="377.20" r="3.30" fill="#ff0000"/><circle cx="459.07" cy="381.90" r="3.30" fill="#ff0000"/><circle cx="471.29" cy="385.20" r="3.30" fill="#ff0000"/><circle cx="483.50" cy="386.60" r="3.30" fill="#ff0000"/><circle cx="495.72" cy="387.00" r="3.30" fill="#ff0000"/><circle cx="507.94" cy="387.20" r="3.30" fill="#ff0000"/><circle cx="520.15" cy="387.20" r="3.30" fill="#ff0000"/><circle cx="532.37" cy="387.90" r="3.30" fill="#ff0000"/><circle cx="544.58" cy="388.30" r="3.30" fill="#ff0000"/><circle cx="556.79" cy="388.30" r="3.30" fill="#ff0000"/><circle cx="569.01" cy="388.30" r="3.30" fill="#ff0000"/><circle cx="581.22" cy="387.65" r="3.30" fill="#ff0000"/><circle cx="593.44" cy="387.65" r="3.30" fill="#ff0000"/><circle cx="605.65" cy="388.30" r="3.30" fill="#ff0000"/><circle cx="617.87" cy="388.30" r="3.30" fill="#ff0000"/><circle cx="630.08" cy="388.50" r="3.30" fill="#ff0000"/><circle cx="642.30" cy="388.70" r="3.30" fill="#ff0000"/>
<circle cx="398.00" cy="351.10" r="2.90" fill="none" stroke="#0000ff" stroke-width="0.7"/><path d="M398.00 348.20 A2.90 2.90 0 0 0 398.00 354.00 Z" fill="#0000ff"/><circle cx="410.21" cy="354.70" r="2.90" fill="none" stroke="#0000ff" stroke-width="0.7"/><path d="M410.21 351.80 A2.90 2.90 0 0 0 410.21 357.60 Z" fill="#0000ff"/><circle cx="422.43" cy="361.70" r="2.90" fill="none" stroke="#0000ff" stroke-width="0.7"/><path d="M422.43 358.80 A2.90 2.90 0 0 0 422.43 364.60 Z" fill="#0000ff"/><circle cx="434.64" cy="370.50" r="2.90" fill="none" stroke="#0000ff" stroke-width="0.7"/><path d="M434.64 367.60 A2.90 2.90 0 0 0 434.64 373.40 Z" fill="#0000ff"/><circle cx="446.86" cy="377.00" r="2.90" fill="none" stroke="#0000ff" stroke-width="0.7"/><path d="M446.86 374.10 A2.90 2.90 0 0 0 446.86 379.90 Z" fill="#0000ff"/><circle cx="459.07" cy="381.30" r="2.90" fill="none" stroke="#0000ff" stroke-width="0.7"/><path d="M459.07 378.40 A2.90 2.90 0 0 0 459.07 384.20 Z" fill="#0000ff"/><circle cx="471.29" cy="383.80" r="2.90" fill="none" stroke="#0000ff" stroke-width="0.7"/><path d="M471.29 380.90 A2.90 2.90 0 0 0 471.29 386.70 Z" fill="#0000ff"/><circle cx="483.50" cy="385.80" r="2.90" fill="none" stroke="#0000ff" stroke-width="0.7"/><path d="M483.50 382.90 A2.90 2.90 0 0 0 483.50 388.70 Z" fill="#0000ff"/><circle cx="495.72" cy="386.40" r="2.90" fill="none" stroke="#0000ff" stroke-width="0.7"/><path d="M495.72 383.50 A2.90 2.90 0 0 0 495.72 389.30 Z" fill="#0000ff"/><circle cx="507.94" cy="387.00" r="2.90" fill="none" stroke="#0000ff" stroke-width="0.7"/><path d="M507.94 384.10 A2.90 2.90 0 0 0 507.94 389.90 Z" fill="#0000ff"/><circle cx="520.15" cy="387.20" r="2.90" fill="none" stroke="#0000ff" stroke-width="0.7"/><path d="M520.15 384.30 A2.90 2.90 0 0 0 520.15 390.10 Z" fill="#0000ff"/><circle cx="532.37" cy="388.10" r="2.90" fill="none" stroke="#0000ff" stroke-width="0.7"/><path d="M532.37 385.20 A2.90 2.90 0 0 0 532.37 391.00 Z" fill="#0000ff"/><circle cx="544.58" cy="388.50" r="2.90" fill="none" stroke="#0000ff" stroke-width="0.7"/><path d="M544.58 385.60 A2.90 2.90 0 0 0 544.58 391.40 Z" fill="#0000ff"/><circle cx="556.79" cy="388.70" r="2.90" fill="none" stroke="#0000ff" stroke-width="0.7"/><path d="M556.79 385.80 A2.90 2.90 0 0 0 556.79 391.60 Z" fill="#0000ff"/><circle cx="569.01" cy="389.10" r="2.90" fill="none" stroke="#0000ff" stroke-width="0.7"/><path d="M569.01 386.20 A2.90 2.90 0 0 0 569.01 392.00 Z" fill="#0000ff"/><circle cx="581.22" cy="388.90" r="2.90" fill="none" stroke="#0000ff" stroke-width="0.7"/><path d="M581.22 386.00 A2.90 2.90 0 0 0 581.22 391.80 Z" fill="#0000ff"/><circle cx="593.44" cy="388.90" r="2.90" fill="none" stroke="#0000ff" stroke-width="0.7"/><path d="M593.44 386.00 A2.90 2.90 0 0 0 593.44 391.80 Z" fill="#0000ff"/><circle cx="605.65" cy="389.10" r="2.90" fill="none" stroke="#0000ff" stroke-width="0.7"/><path d="M605.65 386.20 A2.90 2.90 0 0 0 605.65 392.00 Z" fill="#0000ff"/><circle cx="617.87" cy="388.50" r="2.90" fill="none" stroke="#0000ff" stroke-width="0.7"/><path d="M617.87 385.60 A2.90 2.90 0 0 0 617.87 391.40 Z" fill="#0000ff"/><circle cx="630.08" cy="388.50" r="2.90" fill="none" stroke="#0000ff" stroke-width="0.7"/><path d="M630.08 385.60 A2.90 2.90 0 0 0 630.08 391.40 Z" fill="#0000ff"/><circle cx="642.30" cy="388.70" r="2.90" fill="none" stroke="#0000ff" stroke-width="0.7"/><path d="M642.30 385.80 A2.90 2.90 0 0 0 642.30 391.60 Z" fill="#0000ff"/>
<path d="M532.20 282.00 H543.80" fill="none" stroke="#000" stroke-width="0.8"/>
<path d="M540.80 279.00 Q541.90 281.10 544.30 282.00 Q541.90 282.90 540.80 285.00" fill="none" stroke="#000" stroke-width="0.85" stroke-linejoin="miter"/>
<path d="M532.20 295.00 H543.80" fill="none" stroke="#000" stroke-width="0.8"/>
<path d="M540.80 292.00 Q541.90 294.10 544.30 295.00 Q541.90 295.90 540.80 298.00" fill="none" stroke="#000" stroke-width="0.85" stroke-linejoin="miter"/>
<circle cx="621.50" cy="280.95" r="3.30" fill="#ff0000"/>
<circle cx="621.50" cy="293.85" r="2.90" fill="none" stroke="#0000ff" stroke-width="0.7"/><path d="M621.50 290.95 A2.90 2.90 0 0 0 621.50 296.75 Z" fill="#0000ff"/>
<path d="M398.00 271.45 H642.30 V426.45 H398.00" fill="none" stroke="#000" stroke-width="0.75" stroke-linejoin="round"/>
<g class="t">
<text x="520.15" y="256.25" text-anchor="middle">UCF for breaking of internal symmetries, <tspan style="font-style:italic">B</tspan>=0</text>
<text x="520.65" y="463.15" text-anchor="middle" style="font-size:14.2px">λ</text>
<g transform="translate(349.70 348.55) rotate(-90)">
<text x="0" y="0" text-anchor="middle" style="font-size:12.8px">var [<tspan style="font-style:italic">g</tspan>]</text>
</g>
<text x="608.30" y="285.20" text-anchor="end">asymmetric</text>
<text x="528.60" y="285.20" text-anchor="end">up/down</text>
<text x="608.30" y="298.20" text-anchor="end">asymmetric</text>
<text x="528.60" y="298.20" text-anchor="end">left/right or inversion</text>
<text x="399.75" y="443.40" text-anchor="middle">0</text>
<text x="448.61" y="443.40" text-anchor="middle">0.2</text>
<text x="497.47" y="443.40" text-anchor="middle">0.4</text>
<text x="546.33" y="443.40" text-anchor="middle">0.6</text>
<text x="595.19" y="443.40" text-anchor="middle">0.8</text>
<text x="644.05" y="443.40" text-anchor="middle">1</text>
<text x="390.00" y="275.70" text-anchor="end">0.5</text>
<text x="390.00" y="306.70" text-anchor="end">0.4</text>
<text x="390.00" y="337.70" text-anchor="end">0.3</text>
<text x="390.00" y="368.70" text-anchor="end">0.2</text>
<text x="390.00" y="399.70" text-anchor="end">0.1</text>
<text x="390.00" y="430.70" text-anchor="end">0</text>
</g>
</svg>
</body></html>
